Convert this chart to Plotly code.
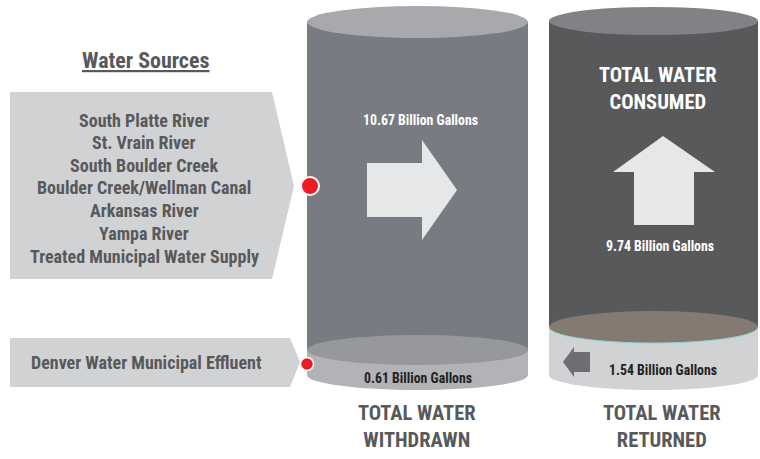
import plotly.graph_objects as go

# ---- data ----
sources = ["South Platte River", "St. Vrain River", "South Boulder Creek",
           "Boulder Creek/Wellman Canal", "Arkansas River", "Yampa River",
           "Treated Municipal Water Supply"]
effluent_source = ["Denver Water Municipal Effluent"]
withdrawn_values = [10.67, 0.61]   # billion gallons
consumed_value = [9.74]
returned_value = [1.54]
unit = "Billion Gallons"
column_titles = ["TOTAL WATER<br>WITHDRAWN", "TOTAL WATER<br>RETURNED"]
consumed_title = "TOTAL WATER<br>CONSUMED"

FONT = "Liberation Sans Narrow, Arial Narrow, Roboto Condensed, Liberation Sans, Arial, sans-serif"
DARK_TXT = "#58595b"

fig = go.Figure()
shapes = []
ann = []

def ellipse(cx, cy, rx, ry, color, line=None):
    shapes.append(dict(type="circle", xref="x", yref="y", x0=cx - rx, x1=cx + rx,
                       y0=cy - ry, y1=cy + ry, fillcolor=color,
                       line=dict(width=0) if line is None else line, layer="above"))

def rect(x0, y0, x1, y1, color):
    shapes.append(dict(type="rect", xref="x", yref="y", x0=x0, x1=x1, y0=y0, y1=y1,
                       fillcolor=color, line=dict(width=0), layer="above"))

def path(d, color):
    shapes.append(dict(type="path", xref="x", yref="y", path=d, fillcolor=color,
                       line=dict(width=0), layer="above"))

def lower_arc(cx, cy, rx, ry, color, width=1):
    k = 0.5523
    d = (f"M {cx-rx} {cy} C {cx-rx} {cy+k*ry}, {cx-k*rx} {cy+ry}, {cx} {cy+ry} "
         f"C {cx+k*rx} {cy+ry}, {cx+rx} {cy+k*ry}, {cx+rx} {cy}")
    shapes.append(dict(type="path", xref="x", yref="y", path=d,
                       fillcolor="rgba(0,0,0,0)", line=dict(width=width, color=color),
                       layer="above"))

# ---- chevrons (sources) ----
path("M 10 92 L 272 92 L 294 186 L 272 279 L 10 279 Z", "#d1d2d4")
path("M 10 338 L 290 338 L 300 362 L 290 387 L 10 387 Z", "#d1d2d4")

# ---- cylinder 1: withdrawn ----
c1x, c1rx = 417.5, 110.5
ellipse(c1x, 375, c1rx, 15, "#b1b3b6")
rect(c1x - c1rx, 350, c1x + c1rx, 375, "#b1b3b6")
rect(c1x - c1rx, 22, c1x + c1rx, 350, "#787b81")
ellipse(c1x, 350, c1rx, 15, "#96989c")
ellipse(c1x, 22, c1rx, 16, "#a7a9ac")
# right arrow
path("M 367 163 L 422 163 L 422 140 L 457 190 L 422 240 L 422 217 L 367 217 Z", "#e6e7e8")

# ---- cylinder 2: returned / consumed ----
c2x, c2rx = 653.5, 104.5
ellipse(c2x, 375, c2rx, 15, "#d1d2d4")
rect(c2x - c2rx, 326, c2x + c2rx, 375, "#d1d2d4")
rect(c2x - c2rx, 21, c2x + c2rx, 326, "#58595b")
ellipse(c2x, 327, c2rx, 16, "#857a72")
lower_arc(c2x, 327, c2rx, 16, "#8fd3d6", 1)
ellipse(c2x, 21, c2rx, 14, "#808285")
# up arrow
path("M 663 136 L 715 172 L 694 172 L 694 225 L 634 225 L 634 172 L 613 172 Z", "#e6e7e8")
# left arrow
path("M 563 362 L 574 347 L 574 352 L 590 352 L 590 372 L 574 372 L 574 377 Z", "#6d6e71")

# ---- red dots ----
ellipse(310, 186, 9, 9, "#ed1c24", line=dict(width=2, color="white"))
ellipse(307, 364, 6.5, 6.5, "#ed1c24", line=dict(width=1.5, color="white"))

# ---- texts ----
def text(x, y, t, size, color, bold=True):
    ann.append(dict(x=x, y=y, xref="x", yref="y", text=f"<b>{t}</b>" if bold else t,
                    showarrow=False, font=dict(family=FONT, size=size, color=color),
                    xanchor="center", yanchor="middle", align="center"))

text(145, 60, "<u>Water Sources</u>", 22, DARK_TXT)
ys = [120, 142, 165, 187, 210, 233, 256]
for y, s in zip(ys, sources):
    text(144, y, s, 18, DARK_TXT)
text(146, 362, effluent_source[0], 18, DARK_TXT)

text(420, 120, f"{withdrawn_values[0]:.2f} {unit}", 13.8, "white")
text(418, 378, f"{withdrawn_values[1]:.2f} {unit}", 13.8, "#231f20")
text(660, 246, f"{consumed_value[0]:.2f} {unit}", 13.8, "white")
text(663, 370, f"{returned_value[0]:.2f} {unit}", 13.8, "#231f20")

text(658, 88, consumed_title, 20.5, "white")
text(417, 426, column_titles[0], 20.5, DARK_TXT)
text(662, 426, column_titles[1], 20.5, DARK_TXT)

fig.update_layout(
    width=760, height=459, margin=dict(l=0, r=0, t=0, b=0),
    paper_bgcolor="white", plot_bgcolor="white",
    xaxis=dict(range=[0, 760], visible=False, fixedrange=True),
    yaxis=dict(range=[459, 0], visible=False, fixedrange=True),
    shapes=shapes, annotations=ann, showlegend=False,
)
fig.write_html("out.html", config=dict(displayModeBar=False),
               post_script="document.body.style.margin='0';document.body.style.overflow='hidden';")
